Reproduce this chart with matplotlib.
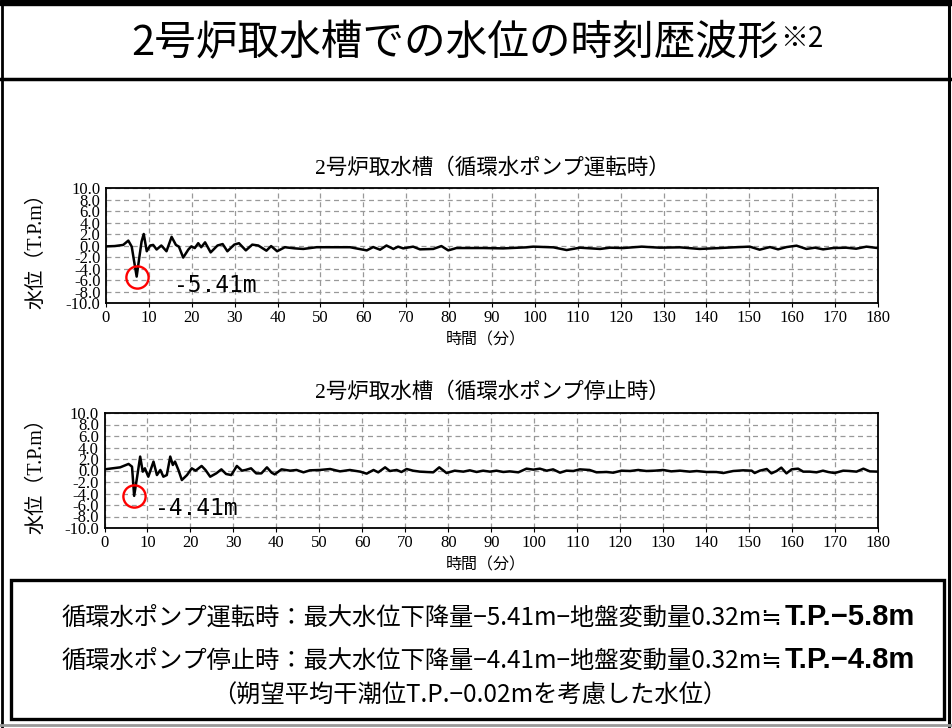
import matplotlib
matplotlib.use("Agg")
import matplotlib.pyplot as plt
from matplotlib.patches import Rectangle

plt.rcParams['font.family'] = ['Noto Sans CJK JP', 'DejaVu Sans']

# texts
page_title = "2号炉取水槽での水位の時刻歴波形"
title_note = "※2"
chart_titles = ["2号炉取水槽（循環水ポンプ運転時）", "2号炉取水槽（循環水ポンプ停止時）"]
x_label = "時間（分）"
y_label = "水位（T.P.m）"
peak_labels = ["-5.41m", "-4.41m"]
sum_rows = ["循環水ポンプ運転時：最大水位下降量−5.41m−地盤変動量0.32m≒",
            "循環水ポンプ停止時：最大水位下降量−4.41m−地盤変動量0.32m≒"]
sum_results = ["T.P.−5.8m", "T.P.−4.8m"]
sum_note = "（朔望平均干潮位T.P.−0.02mを考慮した水位）"

x_ticks = list(range(0, 181, 10))
y_ticks = [-10, -8, -6, -4, -2, 0, 2, 4, 6, 8, 10]

# peak (circled minimum) of each record
peak_t = [7.15, 6.9]
peak_v = [-5.41, -4.41]

# pump running (minutes, T.P.m)
top_t = [0, 2, 4, 5.2, 6.0, 6.5, 7.15, 7.8, 8.3, 8.8,
         9.5, 10.3, 11.0, 11.8, 12.9, 14.1, 15.3, 16.3, 17.0, 18.0,
         19.2, 19.9, 20.7, 21.5, 22.2, 23.1, 24.4, 26.0, 27.2, 28.3,
         29.9, 31.0, 32.6, 34.1, 35.5, 37.4, 38.5, 39.9, 41.7, 44.0,
         46.0, 49.1, 52.2, 56.9, 60.8, 62.3, 63.9, 65.4, 67.0, 68.1,
         69.3, 71.6, 73.2, 76.3, 78.2, 79.8, 81.7, 87.9, 92.6, 98.0,
         99.6, 104.3, 107.4, 110.5, 115.2, 117.5, 120.6, 124.9, 129.1, 133.8,
         138.4, 143.1, 146.2, 150.1, 152.4, 154.8, 156.7, 158.7, 161.0, 163.3,
         165.3, 167.2, 169.5, 172.6, 174.9, 177.3, 180.0]
top_v = [-0.15, -0.1, 0.1, 0.85, -0.2, -2.5, -5.41, -1.9, 0.7, 2.0,
         -1.0, 0.0, 0.1, -0.7, 0.0, -1.0, 1.5, 0.1, -0.2, -2.1,
         -0.7, -0.15, -0.45, 0.4, -0.3, 0.55, -1.2, 0.0, 0.25, -1.0,
         0.15, 0.4, -0.85, 0.15, 0.0, -0.9, -0.1, -1.0, -0.3, -0.5,
         -0.6, -0.3, -0.3, -0.3, -0.85, -0.27, -0.73, 0.0, -0.6, -0.2,
         -0.5, -0.2, -0.67, -0.6, -0.1, -0.85, -0.44, -0.44, -0.5, -0.32,
         -0.2, -0.32, -0.79, -0.38, -0.6, -0.38, -0.44, -0.2, -0.38, -0.32,
         -0.6, -0.44, -0.32, -0.2, -0.73, -0.27, -0.67, -0.27, -0.03, -0.6,
         -0.38, -0.67, -0.44, -0.38, -0.56, -0.2, -0.45]

# pump stopped
bot_t = [0, 3.65, 5.6, 6.4, 6.9, 7.6, 8.3, 8.9, 9.4, 10.2,
         11.4, 12.2, 13.0, 13.7, 14.5, 15.3, 15.9, 16.4, 17.2, 18.0,
         19.2, 20.3, 21.2, 22.6, 23.5, 24.6, 26.0, 27.2, 28.3, 29.5,
         30.8, 32.0, 32.8, 34.1, 35.3, 36.5, 37.8, 38.9, 39.6, 41.2,
         43.2, 44.7, 46.3, 47.8, 50.1, 52.5, 54.8, 57.1, 59.5, 61.0,
         62.6, 63.7, 65.3, 66.4, 68.0, 69.1, 70.3, 71.8, 73.4, 74.9,
         76.5, 77.9, 79.6, 81.5, 83.5, 85.0, 86.6, 88.1, 89.7, 91.2,
         92.8, 94.3, 96.3, 98.2, 99.8, 101.3, 102.9, 104.4, 106.0, 107.5,
         109.1, 110.6, 112.9, 114.5, 116.8, 118.4, 120.3, 122.3, 124.2, 126.1,
         128.1, 130.0, 131.9, 133.9, 136.2, 137.8, 140.1, 142.4, 144.0, 146.3,
         148.6, 150.6, 151.3, 152.5, 154.1, 155.2, 156.4, 157.5, 158.7, 159.9,
         161.4, 162.6, 164.1, 165.7, 167.2, 168.4, 169.9, 171.9, 173.4, 175.0,
         176.6, 178.1, 180.0]
bot_v = [0.2, 0.55, 1.14, 0.67, -4.41, -1.08, 2.42, -0.2, 0.38, -1.08,
         1.55, -0.79, 0.09, -1.08, -0.79, 2.42, 0.96, 1.55, 0.09, -1.66,
         -0.79, 0.38, -0.03, 0.79, 0.09, -1.08, -0.5, 0.2, -0.61, -0.79,
         0.79, -0.03, 0.09, 0.38, -0.5, -0.5, 0.55, -0.38, -0.67, 0.2,
         -0.03, 0.09, -0.32, 0.03, 0.09, 0.26, -0.15, 0.09, -0.2, -0.55,
         0.09, -0.32, 0.55, -0.09, 0.09, -0.26, 0.26, -0.03, -0.2, -0.26,
         -0.32, 0.55, -0.44, -0.03, -0.2, 0.03, -0.26, -0.03, -0.2, -0.03,
         -0.26, -0.15, -0.32, 0.32, 0.15, 0.32, -0.03, 0.2, -0.38, -0.03,
         -0.09, 0.2, 0.09, -0.32, -0.26, -0.38, -0.03, -0.09, 0.09, -0.09,
         -0.03, 0.09, -0.15, -0.03, -0.2, -0.09, -0.26, -0.26, -0.44, -0.09,
         0.03, -0.03, -0.44, -0.03, 0.26, -0.5, -0.09, 0.5, -0.5, 0.2,
         0.32, -0.2, -0.2, -0.32, -0.03, -0.26, -0.44, -0.03, -0.09, -0.2,
         0.32, -0.15, -0.2]

assert len(top_t) == len(top_v) and len(bot_t) == len(bot_v)

serif = ['Liberation Serif', 'Noto Sans CJK JP', 'DejaVu Sans']

fig = plt.figure(figsize=(9.52, 7.28), dpi=100)

# background axis in pixel units for frames and page texts
bg = fig.add_axes([0, 0, 1, 1])
bg.set_xlim(0, 952)
bg.set_ylim(728, 0)
bg.axis('off')

bg.add_patch(Rectangle((0, 0), 952, 5, color='black'))
bg.plot([0, 952], [78.5, 78.5], color='black', lw=2.5)
bg.plot([1.5, 1.5], [0, 728], color='black', lw=2)
bg.plot([948.5, 948.5], [0, 728], color='black', lw=2.2)
bg.plot([0, 952], [725, 725], color='#999999', lw=2)
bg.add_patch(Rectangle((11, 580), 933, 139, fill=False, ec='black', lw=2.4))

t_title = bg.text(455, 44, page_title, fontsize=30, ha='center', va='center')

rows = [625, 668]
row_texts = []
for y, s in zip(rows, sum_rows):
    row_texts.append(bg.text(62, y, s, fontsize=17.5, ha='left', va='baseline'))
bg.text(470, 703, sum_note, fontsize=17.5, ha='center', va='baseline')


def plot_panel(rect, t, v, k, lab_pos):
    ax = fig.add_axes(rect)
    ax.plot(t, v, color='black', lw=1.8, zorder=3)
    ax.plot(peak_t[k], peak_v[k], 'o', ms=16, mfc='none', mec='red', mew=1.7, zorder=4)
    ax.text(lab_pos[0], lab_pos[1], peak_labels[k], fontsize=16.5,
            family='DejaVu Sans Mono', ha='center', va='center')
    ax.set_xlim(0, 180)
    ax.set_ylim(-10, 10)
    ax.set_xticks(x_ticks)
    ax.set_xticklabels([str(x) for x in x_ticks], family=serif, fontsize=12)
    ax.set_yticks(y_ticks)
    ax.set_yticklabels([f"{y:.1f}" for y in y_ticks], family=serif, fontsize=12)
    ax.tick_params(axis='x', length=3, pad=2)
    ax.tick_params(axis='y', length=0, pad=4)
    ax.grid(True, color='#999999', lw=0.9, ls=(0, (4, 3)))
    for sp in ax.spines.values():
        sp.set_linewidth(1.3)
    return ax


ax1 = plot_panel([106 / 952, 1 - 303 / 728, 772 / 952, 115 / 728],
                 top_t, top_v, 0, (25.5, -7.0))
ax2 = plot_panel([104.5 / 952, 1 - 528 / 728, 773.5 / 952, 115 / 728],
                 bot_t, bot_v, 1, (21.3, -6.6))

for yc, title in zip([168, 393], chart_titles):
    bg.text(492, yc, title, fontsize=15.5, family=serif, ha='center', va='center')
for yc in [340, 565]:
    bg.text(486, yc, x_label, fontsize=11.5, family=serif, ha='center', va='center')
for yc in [246, 471]:
    bg.text(37, yc, y_label, fontsize=14.5, family=serif, rotation=90,
            ha='center', va='center')

# pieces that follow other texts
fig.canvas.draw()
r = fig.canvas.get_renderer()
bb = t_title.get_window_extent(r)
bg.text(bb.x1 + 1, 47, title_note, fontsize=20, ha='left', va='baseline')
for y, t_row, res in zip(rows, row_texts, sum_results):
    bb = t_row.get_window_extent(r)
    bg.text(bb.x1 + 2, y, res, fontsize=21, fontweight='bold',
            family=['Liberation Sans', 'DejaVu Sans'], ha='left', va='baseline')

fig.savefig("out.png", dpi=100)
